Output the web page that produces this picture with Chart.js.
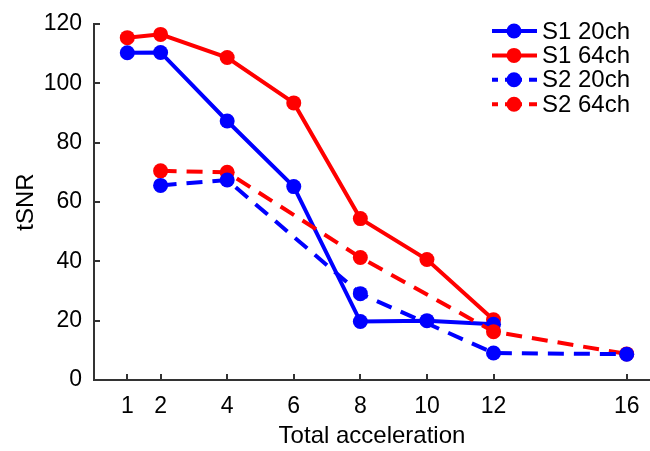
<!DOCTYPE html>
<html>
<head>
<meta charset="utf-8">
<script src="https://cdn.jsdelivr.net/npm/chart.js@4.4.0/dist/chart.umd.min.js"></script>
<style>
  html, body { margin: 0; padding: 0; background: #fff; }
  #wrap { width: 650px; height: 451px; }
</style>
</head>
<body>
<div id="wrap"><canvas id="grafico"></canvas></div>
<script>
// Valores
const xTicks = [1, 2, 4, 6, 8, 10, 12, 16];
const yTicks = [0, 20, 40, 60, 80, 100, 120];

const s1x = [1, 2, 4, 6, 8, 10, 12];
const s1_20ch = [110.3, 110.4, 87.3, 65.2, 19.7, 20.0, 18.8];
const s1_64ch = [115.4, 116.5, 108.7, 93.4, 54.4, 40.6, 20.3];

const s2x = [2, 4, 8, 12, 16];
const s2_20ch = [65.6, 67.4, 29.1, 9.1, 8.7];
const s2_64ch = [70.5, 70.0, 41.3, 16.3, 8.8];

const etiquetas = ['S1 20ch', 'S1 64ch', 'S2 20ch', 'S2 64ch'];

const AZUL = '#0000ff';
const ROJO = '#ff0000';
const EJE = '#333333';
const FUENTE = "'Liberation Sans', Arial, sans-serif";

function puntos(xs, ys) {
    return xs.map((x, i) => ({ x: x, y: ys[i] }));
}

// Marcas de eje hacia dentro (estilo MATLAB)
const marcasInternas = {
    id: 'marcasInternas',
    afterDraw(chart) {
        const ctx = chart.ctx;
        const xs = chart.scales.x, ys = chart.scales.y;
        const area = chart.chartArea;
        ctx.save();
        ctx.strokeStyle = EJE;
        ctx.lineWidth = 2;
        ctx.beginPath();
        xTicks.forEach(v => {
            const px = Math.round(xs.getPixelForValue(v));
            ctx.moveTo(px, area.bottom);
            ctx.lineTo(px, area.bottom - 6);
        });
        yTicks.forEach(v => {
            const py = Math.round(ys.getPixelForValue(v));
            ctx.moveTo(area.left, py);
            ctx.lineTo(area.left + 6, py);
        });
        ctx.stroke();
        ctx.restore();
    }
};

// Leyenda con línea y punto
const leyenda = {
    id: 'leyenda',
    afterDraw(chart) {
        const ctx = chart.ctx;
        ctx.save();
        ctx.font = '24px ' + FUENTE;
        ctx.textBaseline = 'middle';
        [0, 1, 2, 3].forEach((idx, fila) => {
            const ds = chart.data.datasets[idx];
            const y = 31 + fila * 24.4;
            ctx.strokeStyle = ds.borderColor;
            ctx.lineWidth = 4;
            ctx.beginPath();
            if (ds.borderDash) {
                [[492, 498], [505, 522], [529, 537]].forEach(s => {
                    ctx.moveTo(s[0], y);
                    ctx.lineTo(s[1], y);
                });
            } else {
                ctx.moveTo(492, y);
                ctx.lineTo(537, y);
            }
            ctx.stroke();
            ctx.fillStyle = ds.borderColor;
            ctx.beginPath();
            ctx.arc(514, y, 7.5, 0, Math.PI * 2);
            ctx.fill();
            ctx.fillStyle = '#000';
            ctx.fillText(ds.label, 542, y + 1);
        });
        ctx.restore();
    }
};

document.addEventListener('DOMContentLoaded', () => {
    const ctx = document.getElementById('grafico').getContext('2d');
    new Chart(ctx, {
        type: 'line',
        data: {
            datasets: [
                {
                    label: etiquetas[0], data: puntos(s1x, s1_20ch), order: 3,
                    borderColor: AZUL, backgroundColor: AZUL, borderWidth: 4,
                    pointRadius: 7.5, pointBorderWidth: 0, pointHoverRadius: 7.5
                },
                {
                    label: etiquetas[1], data: puntos(s1x, s1_64ch), order: 4,
                    borderColor: ROJO, backgroundColor: ROJO, borderWidth: 4,
                    pointRadius: 7.5, pointBorderWidth: 0, pointHoverRadius: 7.5
                },
                {
                    label: etiquetas[2], data: puntos(s2x, s2_20ch), order: 1,
                    borderColor: AZUL, backgroundColor: AZUL, borderWidth: 4,
                    borderDash: [16, 10],
                    pointRadius: 7.5, pointBorderWidth: 0, pointHoverRadius: 7.5
                },
                {
                    label: etiquetas[3], data: puntos(s2x, s2_64ch), order: 2,
                    borderColor: ROJO, backgroundColor: ROJO, borderWidth: 4,
                    borderDash: [16, 10],
                    pointRadius: 7.5, pointBorderWidth: 0, pointHoverRadius: 7.5
                }
            ]
        },
        options: {
            responsive: true,
            maintainAspectRatio: false,
            animation: false,
            layout: { autoPadding: false, padding: { top: 24, right: 0, left: 0, bottom: 0 } },
            scales: {
                x: {
                    type: 'linear',
                    min: 0,
                    max: 16.7,
                    afterBuildTicks: scale => { scale.ticks = xTicks.map(v => ({ value: v })); },
                    afterFit: scale => { scale.height = 71; scale.paddingRight = 0; scale.paddingLeft = 0; },
                    grid: { display: false, drawTicks: false },
                    border: { display: true, color: EJE, width: 2 },
                    ticks: { color: '#000', padding: 13, font: { family: FUENTE, size: 23 }, maxRotation: 0, autoSkip: false },
                    title: { display: true, text: 'Total acceleration', color: '#000', padding: 0, font: { family: FUENTE, size: 24 } }
                },
                y: {
                    min: 0,
                    max: 120,
                    afterBuildTicks: scale => { scale.ticks = yTicks.map(v => ({ value: v })); },
                    afterFit: scale => { scale.width = 94; scale.paddingTop = 0; scale.paddingBottom = 0; },
                    grid: { display: false, drawTicks: false },
                    border: { display: true, color: EJE, width: 2 },
                    ticks: { color: '#000', padding: 12, font: { family: FUENTE, size: 23 } },
                    title: { display: true, text: 'tSNR', color: '#000', padding: 12, font: { family: FUENTE, size: 24 } }
                }
            },
            plugins: {
                legend: { display: false },
                tooltip: { enabled: false }
            }
        },
        plugins: [marcasInternas, leyenda]
    });
});
</script>
</body>
</html>
